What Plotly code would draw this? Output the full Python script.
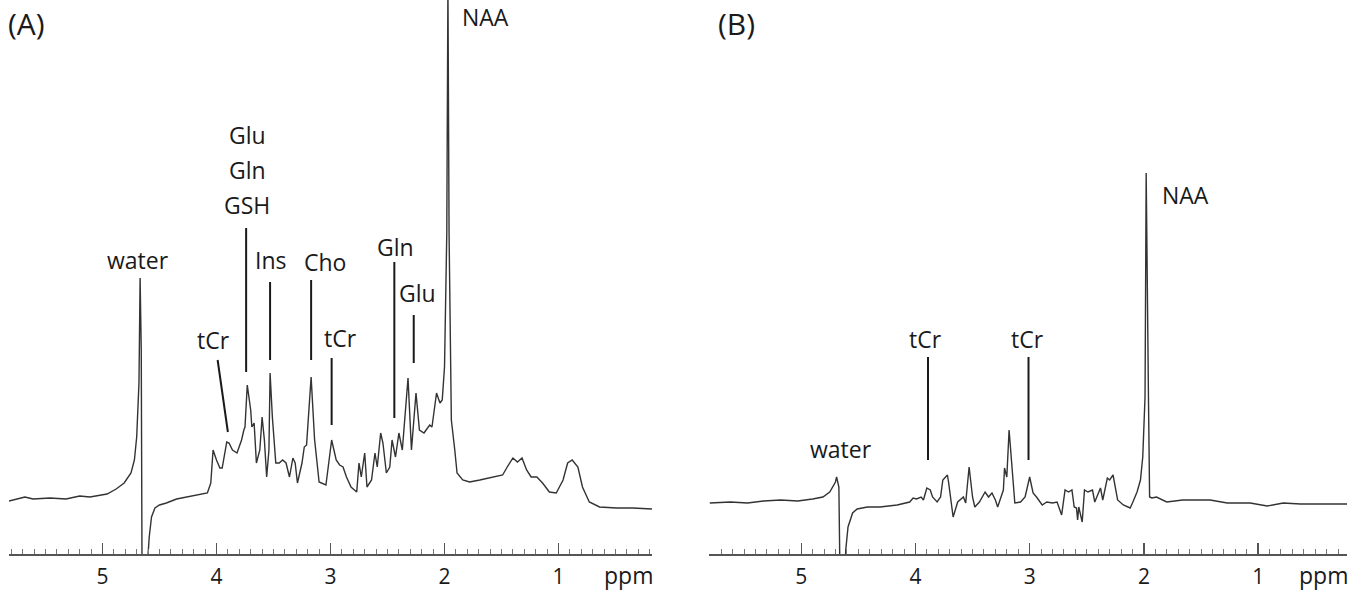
import plotly.graph_objects as go

# ---- Panel A spectrum (ppm, intensity in arbitrary units) ----
ppm_a = [5.82, 5.68, 5.61, 5.46, 5.32, 5.20, 5.11, 4.96, 4.88, 4.81, 4.75, 4.72, 4.70, 4.68, 4.67, 4.66,
         4.65, 4.64, 4.60, 4.59, 4.57, 4.54, 4.50, 4.44, 4.35, 4.26, 4.15, 4.08, 4.05, 4.03, 4.00, 3.97,
         3.95, 3.91, 3.89, 3.86, 3.82, 3.78, 3.76, 3.75, 3.73, 3.70, 3.69, 3.67, 3.65, 3.62, 3.60, 3.58,
         3.56, 3.54, 3.53, 3.51, 3.48, 3.45, 3.42, 3.39, 3.36, 3.33, 3.31, 3.29, 3.25, 3.23, 3.21, 3.17,
         3.14, 3.10, 3.04, 2.99, 2.95, 2.92, 2.89, 2.86, 2.82, 2.77, 2.75, 2.73, 2.70, 2.68, 2.64, 2.61,
         2.59, 2.56, 2.54, 2.51, 2.48, 2.46, 2.43, 2.40, 2.37, 2.32, 2.29, 2.25, 2.22, 2.18, 2.13, 2.11,
         2.07, 2.04, 2.02, 2.00, 1.98, 1.97, 1.96, 1.94, 1.91, 1.89, 1.84, 1.78, 1.69, 1.58, 1.49, 1.45,
         1.40, 1.36, 1.32, 1.28, 1.24, 1.19, 1.14, 1.08, 1.02, 0.96, 0.92, 0.88, 0.83, 0.79, 0.73, 0.64,
         0.49, 0.35, 0.18]
int_a = [53, 57, 55, 56, 55, 58, 57, 60, 65, 71, 81, 94, 117, 171, 276, 204,
         -120, -120, 0, 17, 37, 46, 49, 51, 55, 57, 60, 61, 71, 104, 94, 86,
         86, 112, 111, 104, 101, 114, 124, 127, 169, 144, 127, 131, 91, 104, 137, 114,
         77, 104, 181, 137, 91, 91, 94, 91, 77, 96, 91, 71, 91, 107, 109, 177,
         115, 72, 69, 114, 94, 89, 87, 77, 67, 62, 91, 77, 101, 67, 74, 101,
         87, 121, 111, 81, 87, 114, 97, 121, 104, 176, 104, 161, 124, 121, 129, 127,
         161, 151, 154, 187, 321, 570, 321, 134, 104, 81, 74, 72, 74, 77, 79, 87,
         96, 92, 96, 84, 77, 77, 71, 62, 61, 74, 91, 94, 87, 67, 52, 47,
         46, 46, 45]

# ---- Panel B spectrum ----
ppm_b = [5.80, 5.62, 5.47, 5.33, 5.18, 5.03, 4.90, 4.81, 4.75, 4.70, 4.69, 4.67, 4.65, 4.64, 4.61, 4.59,
         4.55, 4.51, 4.42, 4.31, 4.16, 4.05, 4.02, 3.99, 3.95, 3.93, 3.90, 3.87, 3.85, 3.81, 3.78, 3.76,
         3.72, 3.71, 3.67, 3.63, 3.58, 3.56, 3.53, 3.50, 3.48, 3.44, 3.39, 3.36, 3.33, 3.30, 3.28, 3.23,
         3.22, 3.20, 3.18, 3.15, 3.13, 3.08, 3.04, 3.00, 2.97, 2.94, 2.89, 2.85, 2.80, 2.76, 2.72, 2.69,
         2.66, 2.63, 2.61, 2.59, 2.58, 2.57, 2.54, 2.52, 2.49, 2.45, 2.43, 2.38, 2.36, 2.32, 2.30, 2.27,
         2.25, 2.23, 2.18, 2.12, 2.10, 2.06, 2.03, 2.01, 1.99, 1.98, 1.96, 1.95, 1.93, 1.89, 1.80, 1.66,
         1.51, 1.42, 1.27, 1.07, 0.92, 0.78, 0.63, 0.49, 0.35, 0.17]
int_b = [51, 52, 51, 53, 54, 53, 55, 57, 62, 72, 77, 67, -120, -120, 4, 27,
         41, 45, 47, 47, 49, 52, 56, 55, 57, 54, 66, 64, 57, 52, 57, 74,
         79, 72, 37, 52, 57, 51, 87, 57, 47, 52, 62, 57, 61, 54, 47, 64,
         86, 77, 124, 81, 51, 52, 57, 77, 61, 57, 49, 52, 51, 52, 39, 64,
         62, 64, 47, 46, 34, 47, 32, 64, 62, 64, 52, 66, 54, 76, 74, 79,
         67, 54, 49, 46, 51, 62, 74, 97, 157, 381, 157, 57, 56, 57, 52, 54,
         54, 54, 51, 51, 48, 51, 50, 50, 50, 50]

# ---- Peak labels: text, ppm position, intensity position ----
lab_a_text = ["water", "tCr", "Glu", "Gln", "GSH", "Ins", "Cho", "tCr", "Gln", "Glu", "NAA"]
lab_a_ppm = [4.69, 4.03, 3.73, 3.73, 3.73, 3.52, 3.05, 2.91, 2.43, 2.24, 1.64]
lab_a_int = [294, 214, 419, 384, 349, 294, 292, 216, 307, 261, 537]

# marker lines: ppm top, int top, ppm bottom, int bottom
line_a_ppm0 = [3.99, 3.74, 3.53, 3.17, 2.99, 2.44, 2.27]
line_a_int0 = [194, 326, 272, 274, 196, 292, 239]
line_a_ppm1 = [3.90, 3.74, 3.53, 3.17, 2.99, 2.44, 2.27]
line_a_int1 = [122, 182, 194, 194, 129, 136, 191]

lab_b_text = ["water", "tCr", "tCr", "NAA"]
lab_b_ppm = [4.65, 3.91, 3.02, 1.64]
lab_b_int = [105, 215, 215, 359]

line_b_ppm = [3.89, 3.01]
line_b_int0 = [197, 197]
line_b_int1 = [94, 94]

tick_vals = [5, 4, 3, 2, 1]
tick_text = ["5", "4", "3", "2", "1"]

W, H = 1355, 591
PLOT_H = 554          # pixel height of plot area (axis line at its bottom)
FONT = "Open Sans"
LBL = 23
TICK = 21
spec_color = "#333333"
ink = "#1a1a1a"

def py(px):
    """pixel row from top of figure -> paper y coordinate"""
    return (PLOT_H - px) / PLOT_H

fig = go.Figure()
fig.add_trace(go.Scatter(x=ppm_a, y=int_a, mode="lines", line=dict(color=spec_color, width=1.4),
                         xaxis="x", yaxis="y", showlegend=False, hoverinfo="skip"))
fig.add_trace(go.Scatter(x=ppm_b, y=int_b, mode="lines", line=dict(color=spec_color, width=1.4),
                         xaxis="x2", yaxis="y2", showlegend=False, hoverinfo="skip"))

ax_common = dict(
    showline=True, linecolor="#555", linewidth=1.5, showgrid=False, zeroline=False,
    ticks="inside", ticklen=11, tickwidth=1.3, tickcolor="#555",
    tickvals=tick_vals, ticktext=tick_text, ticklabelstandoff=3,
    tickfont=dict(family=FONT, size=TICK, color=ink),
    minor=dict(ticks="inside", ticklen=5, tickwidth=1, tickcolor="#777", dtick=0.1, tick0=0, showgrid=False),
)
fig.update_layout(
    width=W, height=H, margin=dict(l=0, r=0, t=0, b=H - PLOT_H),
    paper_bgcolor="white", plot_bgcolor="white",
    xaxis=dict(domain=[9 / W, 652 / W], range=[5.82, 0.18], anchor="y", **ax_common),
    xaxis2=dict(domain=[709 / W, 1347 / W], range=[5.807, 0.222], anchor="y2", **ax_common),
    yaxis=dict(range=[0, PLOT_H], visible=False, domain=[0, 1]),
    yaxis2=dict(range=[0, PLOT_H], visible=False, domain=[0, 1], anchor="x2"),
)

for t, px, iy in zip(lab_a_text, lab_a_ppm, lab_a_int):
    fig.add_annotation(x=px, y=iy, xref="x", yref="y", text=t, showarrow=False,
                       font=dict(family=FONT, size=LBL, color=ink))
for t, px, iy in zip(lab_b_text, lab_b_ppm, lab_b_int):
    fig.add_annotation(x=px, y=iy, xref="x2", yref="y2", text=t, showarrow=False,
                       font=dict(family=FONT, size=LBL, color=ink))

for p0, i0, p1, i1 in zip(line_a_ppm0, line_a_int0, line_a_ppm1, line_a_int1):
    fig.add_shape(type="line", x0=p0, y0=i0, x1=p1, y1=i1, xref="x", yref="y",
                  line=dict(color=ink, width=2))
for p, i0, i1 in zip(line_b_ppm, line_b_int0, line_b_int1):
    fig.add_shape(type="line", x0=p, y0=i0, x1=p, y1=i1, xref="x2", yref="y2",
                  line=dict(color=ink, width=2))

# panel letters
fig.add_annotation(x=6 / W, y=py(23), xref="paper", yref="paper", text="(A)", showarrow=False,
                   xanchor="left", yanchor="middle", font=dict(family=FONT, size=30, color=ink))
fig.add_annotation(x=716 / W, y=py(23), xref="paper", yref="paper", text="(B)", showarrow=False,
                   xanchor="left", yanchor="middle", font=dict(family=FONT, size=30, color=ink))
# ppm unit labels
for xr in (655 / W, 1350 / W):
    fig.add_annotation(x=xr, y=py(575), xref="paper", yref="paper", text="ppm", showarrow=False,
                       xanchor="right", yanchor="middle", font=dict(family=FONT, size=LBL, color=ink))

# remove the browser's default page margin so the figure sits at the window's corner
fig.write_html("out.html", config={"displayModeBar": False, "staticPlot": True},
               post_script="document.body.style.margin='0';document.body.style.overflow='hidden';")
